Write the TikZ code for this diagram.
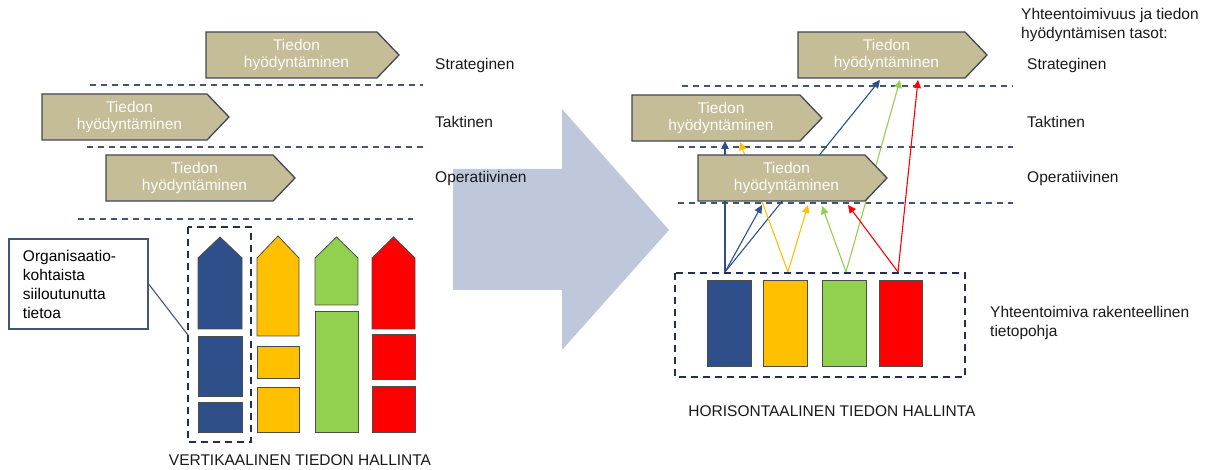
\documentclass[tikz,border=0pt]{standalone}
\usepackage{fontspec}
\setmainfont{Liberation Sans}
\usetikzlibrary{arrows.meta,calc}

\definecolor{tanfill}{RGB}{196,189,151}
\definecolor{tanline}{RGB}{64,72,84}
\definecolor{slate}{RGB}{68,84,120}
\definecolor{navy}{RGB}{34,48,80}
\definecolor{cblue}{RGB}{47,79,138}
\definecolor{cyellow}{RGB}{255,192,0}
\definecolor{cgreen}{RGB}{146,208,80}
\definecolor{cred}{RGB}{255,0,0}
\definecolor{bigarrow}{RGB}{191,199,218}

\tikzset{
  lbl/.style={font=\fontsize{15.5}{19}\selectfont, inner sep=0pt, text=black!90},
  boxtext/.style={font=\fontsize{15.5}{17.5}\selectfont, inner sep=0pt, align=center, text=white!96!tanfill},
  tanshape/.style={fill=tanfill, draw=tanline, line width=1.3pt, line join=miter},
  levelline/.style={draw=slate, line width=1.2pt, dash pattern=on 6pt off 5pt},
  groupbox/.style={draw=navy, line width=2pt, dash pattern=on 7pt off 5pt},
  colblock/.style={draw=black!70, line width=0.8pt},
  flow/.style={line width=1.1pt, -{Triangle[length=8pt,width=7.5pt]}},
}

% "Tiedon hyödyntäminen" pentagon: name, left x, top y, body right x
\newcommand{\tiedonbox}[4]{%
  \draw[tanshape] (#2,#3) -- (#4,#3) -- (#4+22,#3+23) -- (#4,#3+46) -- (#2,#3+46) -- cycle;
  \node[boxtext] (#1) at ({(#2+#4)/2+5},#3+23) {Tiedon\\hyödyntäminen};
}
% column piece with a pointed top: left, right, tip y, shoulder y, bottom y, colour
\newcommand{\pointedblock}[6]{%
  \draw[colblock, fill=#6] (#1,#5) -- (#1,#4) -- ({(#1+#2)/2},#3) -- (#2,#4) -- (#2,#5) -- cycle;
}

\begin{document}
\begin{tikzpicture}[x=1pt,y=-1pt]
\useasboundingbox (0,0) rectangle (1208,470);

% ---------- big transition arrow ----------
\fill[bigarrow] (453,169) -- (562,169) -- (562,109) -- (669,230) -- (562,350) -- (562,290) -- (453,290) -- cycle;

% ---------- left: vertical management ----------
\draw[levelline] (90,85) -- (423,85);
\draw[levelline] (87,147) -- (423,147);
\draw[levelline] (78,219) -- (413,219);

\tiedonbox{ls}{206}{32}{377}
\tiedonbox{lt}{42}{94}{207}
\tiedonbox{lo}{106}{155}{273}

\node[lbl, anchor=base west] (lsl) at (435,70) {Strateginen};
\node[lbl, anchor=base west] (ltl) at (435,128) {Taktinen};
\node[lbl, anchor=base west] (lol) at (435,183) {Operatiivinen};

% columns
\pointedblock{198}{242}{237}{258}{329}{cblue}
\draw[colblock, fill=cblue] (198,336) rectangle (242,396);
\draw[colblock, fill=cblue] (198,402) rectangle (242,432);

\pointedblock{257}{299}{236}{258}{336}{cyellow}
\draw[colblock, fill=cyellow] (257,346) rectangle (299,378);
\draw[colblock, fill=cyellow] (257,387) rectangle (299,432);

\pointedblock{315}{358}{237}{258}{305}{cgreen}
\draw[colblock, fill=cgreen] (315,311) rectangle (358,432);

\pointedblock{372}{415}{237}{258}{329}{cred}
\draw[colblock, fill=cred] (372,334) rectangle (415,379);
\draw[colblock, fill=cred] (372,386) rectangle (415,432);

\draw[groupbox] (188,227) rectangle (251,442);
\coordinate (silo) at (188,335);

\node[draw=slate, line width=1.2pt, fill=white, minimum width=139pt, minimum height=90pt,
      text width=111pt, inner xsep=14pt, align=left,
      font=\fontsize{15.5}{19}\selectfont] (org) at (78.5,284)
      {Organisaatio-\\kohtaista\\siiloutunutta\\tietoa};
\draw[draw=slate, line width=1.1pt] (org.east) -- (silo);

\node[lbl, anchor=base] (vert) at (300,465) {VERTIKAALINEN TIEDON HALLINTA};

% ---------- right: horizontal management ----------
\draw[levelline] (682,86) -- (1013,86);
\draw[levelline] (678,147) -- (1013,147);
\draw[levelline] (678,203) -- (1013,203);

% sources on the shared base
\coordinate (sb) at (725,272);
\coordinate (sy) at (788,272);
\coordinate (sg) at (846,272);
\coordinate (sr) at (898,272);
% targets on the level boxes
\coordinate (tbT) at (725,141);
\coordinate (tbO) at (762,205);
\coordinate (tbS) at (880,80);
\coordinate (tyO) at (808,205);
\coordinate (tyT) at (740,142);
\coordinate (tgO) at (822,206);
\coordinate (tgS) at (900,80);
\coordinate (trO) at (848,205);
\coordinate (trS) at (918,80);

\draw[flow, cblue] (sb) -- (tbT);
\draw[flow, cblue] (sb) -- (tbO);
\draw[flow, cblue] (sb) -- (tbS);
\draw[flow, cyellow] (sy) -- (tyO);
\draw[flow, cyellow] (sy) -- (tyT);
\draw[flow, cgreen] (sg) -- (tgO);
\draw[flow, cgreen] (sg) -- (tgS);
\draw[flow, cred] (sr) -- (trO);
\draw[flow, cred] (sr) -- (trS);

\tiedonbox{rs}{798}{32}{965}
\tiedonbox{rt}{632}{95}{800}
\tiedonbox{ro}{698}{155}{865}

\node[lbl, anchor=base west, align=left] (head1) at (1021,20) {Yhteentoimivuus ja tiedon};
\node[lbl, anchor=base west] (head2) at (1021,39) {hyödyntämisen tasot:};
\node[lbl, anchor=base west] (rsl) at (1027,70) {Strateginen};
\node[lbl, anchor=base west] (rtl) at (1027,128) {Taktinen};
\node[lbl, anchor=base west] (rol) at (1027,183) {Operatiivinen};

\draw[colblock, fill=cblue] (707,280) rectangle (751,366);
\draw[colblock, fill=cyellow] (763,280) rectangle (807,366);
\draw[colblock, fill=cgreen] (822,280) rectangle (866,366);
\draw[colblock, fill=cred] (879,280) rectangle (922,366);
\draw[groupbox] (675,273) rectangle (965,377);

\node[lbl, anchor=base west] (base1) at (990,318) {Yhteentoimiva rakenteellinen};
\node[lbl, anchor=base west] (base2) at (990,337) {tietopohja};

\node[lbl, anchor=base] (horiz) at (832,416) {HORISONTAALINEN TIEDON HALLINTA};
\end{tikzpicture}
\end{document}
